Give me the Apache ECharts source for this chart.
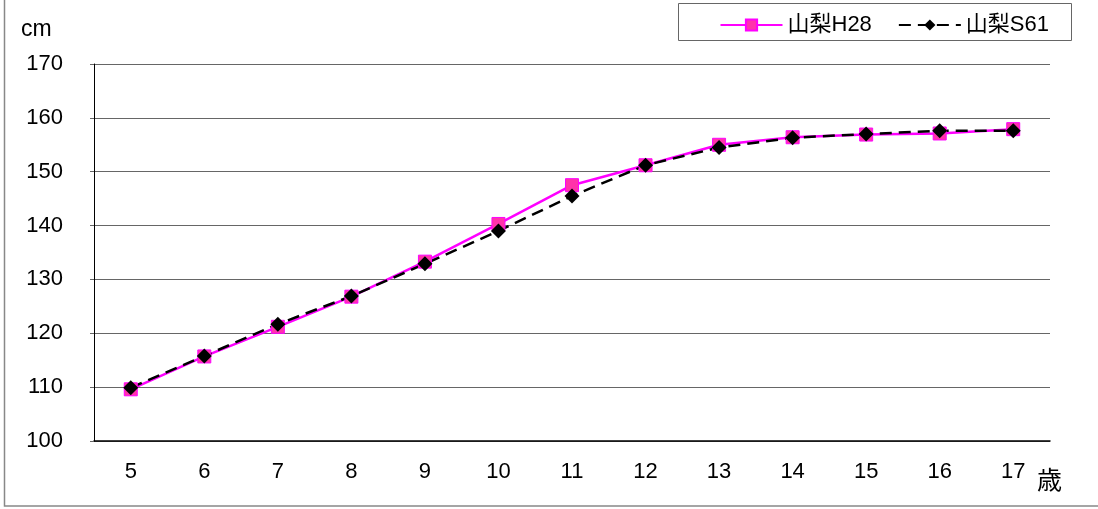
<!DOCTYPE html>
<html><head><meta charset="utf-8">
<script src="https://cdn.jsdelivr.net/npm/echarts@6/dist/echarts.min.js"></script>
<style>html,body{margin:0;padding:0;background:#fff}#c{width:1098px;height:509px}</style>
</head><body><div id="c"></div>
<script>
const categories = ['5','6','7','8','9','10','11','12','13','14','15','16','17'];
const h28 = [109.6, 115.7, 121.2, 126.8, 133.3, 140.3, 147.5, 151.2, 155.0, 156.4, 156.9, 157.1, 157.9];
const s61 = [109.9, 115.8, 121.7, 126.9, 132.9, 139.0, 145.5, 151.2, 154.5, 156.3, 157.0, 157.6, 157.6];
const yTicks = [100, 110, 120, 130, 140, 150, 160, 170];

const chart = echarts.init(document.getElementById('c'));
const font = '"Liberation Sans", Arial, "Noto Sans CJK JP", sans-serif';
chart.setOption({
  animation: false,
  textStyle: {fontFamily: font},
  graphic: [
    {type: 'rect', shape: {x: 4.5, y: -2, width: 1100, height: 508}, style: {fill: 'none', stroke: '#888', lineWidth: 1.5}, z: -1},
    {type: 'rect', shape: {x: 678.5, y: 3.5, width: 393, height: 37}, style: {fill: '#fff', stroke: '#666', lineWidth: 1}, z: 0},
    {type: 'text', left: 21, top: 18, style: {text: 'cm', font: '23px ' + font, fill: '#000'}},
    {type: 'text', left: 1037, top: 467, style: {text: '歳', font: '25px "Noto Sans CJK JP", sans-serif', fill: '#000'}}
  ],
  legend: {
    top: 9, right: 44, itemGap: 26, itemWidth: 62, itemHeight: 14,
    textStyle: {fontSize: 22, color: '#000', fontFamily: font},
    data: ['山梨H28', '山梨S61']
  },
  grid: {left: 94, right: 48, top: 64, bottom: 68},
  xAxis: {
    type: 'category', data: categories, boundaryGap: true,
    axisLine: {lineStyle: {color: '#000', width: 1.5}},
    axisTick: {inside: true, length: 6, lineStyle: {color: '#888'}},
    axisLabel: {fontSize: 22, color: '#000', margin: 20}
  },
  yAxis: {
    type: 'value', min: 100, max: 170, interval: 10,
    axisLine: {show: true, lineStyle: {color: '#000', width: 1}},
    axisTick: {show: true, length: 4, lineStyle: {color: '#666'}},
    splitLine: {lineStyle: {color: '#666', width: 1}},
    axisLabel: {fontSize: 22, color: '#000', margin: 31, align: 'right'}
  },
  series: [
    {
      name: '山梨H28', type: 'line', data: h28,
      symbol: 'rect', symbolSize: 13,
      lineStyle: {color: '#ff00ff', width: 2.5},
      itemStyle: {color: '#ff33aa', borderColor: '#ff00ff', borderWidth: 1}
    },
    {
      name: '山梨S61', type: 'line', data: s61,
      symbol: 'diamond', symbolSize: 15,
      lineStyle: {color: '#000', width: 2.5, type: [12, 7]},
      itemStyle: {color: '#000'}
    }
  ]
});
</script></body></html>
